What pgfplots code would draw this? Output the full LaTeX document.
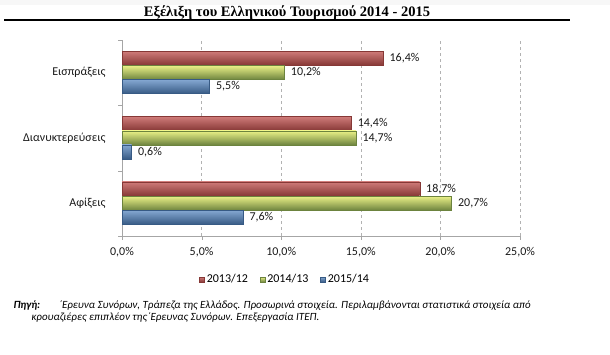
\documentclass[border=0pt]{standalone}
\usepackage{pgfplots}
\pgfplotsset{compat=1.18}
\usepackage{fontspec}
\setmainfont{Carlito}
\newfontfamily\titlefont{Liberation Serif}
\definecolor{cR}{HTML}{C0504D}
\definecolor{cG}{HTML}{9BBB59}
\definecolor{cB}{HTML}{4F81BD}
\pgfplotsset{
  redbar/.style={bar shift=14.5pt, draw=cR!70!black, top color=cR!75!white, middle color=cR, bottom color=cR!70!black},
  greenbar/.style={bar shift=0pt, draw=cG!70!black, top color=cG!40!yellow!55!white, middle color=cG, bottom color=cG!70!black},
  bluebar/.style={bar shift=-14pt, draw=cB!70!black, top color=cB!70!white, middle color=cB, bottom color=cB!70!black},
}
\begin{document}
\begin{tikzpicture}
\path[use as bounding box] (0pt,0pt) rectangle (610pt,355pt);
\fill[gray!6] (0pt,350pt) rectangle (610pt,355pt);
\node[font=\titlefont\bfseries\fontsize{14.5}{16}\selectfont, anchor=base] at (287pt,338pt) {Εξέλιξη του Ελληνικού Τουρισμού 2014 - 2015};
\draw[line width=1.4pt] (4pt,335pt) -- (570pt,335pt);
\begin{axis}[
  at={(122pt,119pt)}, anchor=south west,
  scale only axis, width=398pt, height=196pt,
  xmin=0, xmax=25, ymin=-0.5, ymax=2.5,
  axis x line*=bottom, axis y line*=left,
  axis line style={draw=gray!70, -},
  xtick={0,5,10,15,20,25},
  xticklabel={\pgfmathprintnumber[fixed,fixed zerofill,precision=1,use comma]{\tick}\%},
  /pgf/number format/assume math mode=true,
  tick align=outside, major tick length=4pt,
  tick style={draw=gray!70},
  xmajorgrids, grid style={dashed, gray!60},
  ytick={-0.5,0.5,1.5,2.5}, yticklabels={},
  extra y ticks={0,1,2},
  extra y tick labels={Αφίξεις,Διανυκτερεύσεις,Εισπράξεις},
  extra y tick style={tick style={draw=none}, yticklabel style={xshift=-9pt}},
  ticklabel style={font=\fontsize{12}{14}\selectfont, text=black!90},
  xticklabel style={yshift=-4pt},
  xbar, bar width=14pt,
  nodes near coords={\pgfmathprintnumber[fixed,fixed zerofill,precision=1,use comma]{\pgfplotspointmeta}\%},
  nodes near coords style={anchor=west, xshift=3pt, font=\fontsize{12}{14}\selectfont, text=black!90},
  legend style={at={(0.41,-0.222)}, anchor=center, draw=none, legend columns=3,
    font=\fontsize{12}{14}\selectfont, /tikz/every even column/.append style={column sep=10pt}},
  legend image code/.code={\draw[#1] (0pt,-2.5pt) rectangle (5pt,2.5pt);},
]
\addplot[redbar] coordinates {(18.7,0)};
\addplot[greenbar] coordinates {(20.7,0)};
\addplot[bluebar] coordinates {(7.6,0)};
\legend{2013/12,2014/13,2015/14}
\addplot[redbar, forget plot] coordinates {(14.4,1)};
\addplot[redbar, forget plot] coordinates {(16.4,2)};
\addplot[greenbar, forget plot] coordinates {(14.7,1)};
\addplot[greenbar, forget plot] coordinates {(10.2,2)};
\addplot[bluebar, forget plot] coordinates {(0.6,1)};
\addplot[bluebar, forget plot] coordinates {(5.5,2)};
\end{axis}
\node[anchor=base west, font=\fontsize{11}{12}\selectfont\bfseries\itshape] at (10pt,46pt) {Πηγή:};
\node[anchor=base west, font=\fontsize{11}{12}\selectfont\itshape] at (55pt,46pt) {΄Ερευνα Συνόρων, Τράπεζα της Ελλάδος. Προσωρινά στοιχεία. Περιλαμβάνονται στατιστικά στοιχεία από};
\node[anchor=base west, font=\fontsize{11}{12}\selectfont\itshape] at (28pt,34pt) {κρουαζιέρες επιπλέον της΄Ερευνας Συνόρων. Επεξεργασία ΙΤΕΠ.};
\end{tikzpicture}
\end{document}
